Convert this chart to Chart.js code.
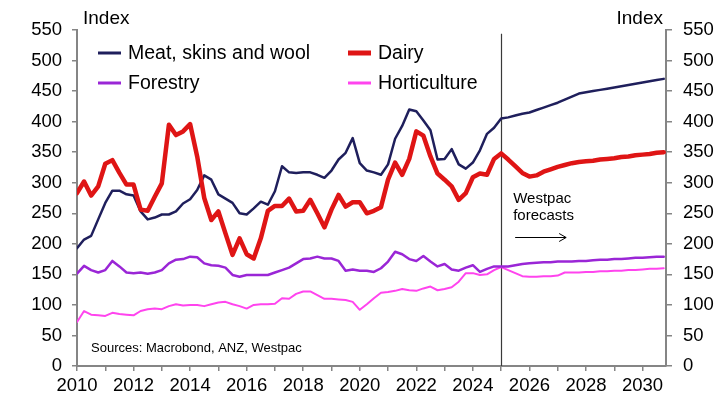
<!DOCTYPE html>
<html>
<head>
<meta charset="utf-8">
<script src="https://cdn.jsdelivr.net/npm/chart.js@4/dist/chart.umd.min.js"></script>
<style>
  html, body { margin: 0; padding: 0; background: #fff; }
  #wrap { width: 727px; height: 398px; position: relative; }
</style>
</head>
<body>
<div id="wrap"><canvas id="c" width="727" height="398"></canvas></div>
<script>
// Quarterly export price indices, 2010 Q1 onwards; forecasts start after 2025 Q1.
const FIRST_YEAR = 2010;
const FORECAST_FROM = 2025;

const meatHistory = [193,207,213,240,267,287,287,281,279,253,240,243,248,248,253,266,273,288,312,305,
  281,274,267,250,248,258,269,264,286,327,317,316,317,317,313,308,320,338,349,373,
  332,320,317,313,330,372,393,420,417,402,386,338,339,355,330,323,333,353,380,390,405];
const meatForecast = [407,410,413,415,419,423,427,431,436,441,446,448,450,452,454,456,458,460,462,464,466,468,470];

const dairyHistory = [283,302,279,294,331,337,316,297,297,256,254,277,299,395,378,384,396,343,275,239,
  253,217,182,209,183,176,209,254,262,262,274,253,254,272,250,227,256,280,261,268,
  268,250,254,260,305,333,313,339,384,377,343,315,305,294,272,283,309,315,313,339,348];
const dairyForecast = [338,327,316,310,312,318,322,326,329,332,334,335,336,338,339,340,342,343,345,346,347,349,350];

const forestryHistory = [151,164,157,153,157,172,163,153,152,153,151,153,157,168,174,175,179,178,168,165,
  164,161,149,146,149,149,149,149,153,157,161,168,175,176,179,176,176,172,156,158,
  156,156,154,160,171,187,183,175,172,180,171,163,167,158,156,161,165,154,159,163,163];
const forestryForecast = [163,165,167,168,169,170,170,171,171,171,172,172,173,174,174,175,175,176,177,177,178,179,179];

const hortHistory = [72,90,84,83,82,87,85,84,83,90,93,94,93,98,101,99,100,100,98,101,
  104,105,101,98,94,100,101,101,102,111,110,118,122,122,116,110,110,109,108,105,
  92,101,111,120,121,123,126,124,123,127,130,124,126,129,138,152,152,149,150,157,162];
const hortForecast = [157,152,147,146,146,147,147,148,153,153,153,154,154,155,155,156,156,157,157,158,159,159,160];

const yTicks = { min: 0, max: 550, step: 50 };
const xRange = { min: 2010, max: 2030.83 };

const seriesNames = ['Meat, skins and wool', 'Dairy', 'Forestry', 'Horticulture'];
const seriesColors = ['#1f1f5c', '#df1515', '#9a26d6', '#ff44ee'];
const seriesWidths = [2.5, 4.5, 2.5, 2];

// Turn a quarterly value list into {x: year, y: value} points
function toPoints(values) {
  return values.map((v, i) => ({ x: FIRST_YEAR + i * 0.25, y: v }));
}

const allSeries = [
  meatHistory.concat(meatForecast),
  dairyHistory.concat(dairyForecast),
  forestryHistory.concat(forestryForecast),
  hortHistory.concat(hortForecast)
];

const FONT = '"Liberation Sans", Arial, Helvetica, sans-serif';
const AXIS_GREY = '#858585';

const datasets = allSeries.map((vals, k) => ({
  label: seriesNames[k],
  data: toPoints(vals),
  borderColor: seriesColors[k],
  backgroundColor: seriesColors[k],
  borderWidth: seriesWidths[k],
  pointRadius: 0,
  tension: 0,
  borderJoinStyle: 'round',
  borderCapStyle: 'round',
  fill: false,
  order: k === 1 ? 0 : k + 1
}));

// Forecast divider, annotations, legend and axis titles
const overlay = {
  id: 'overlay',
  beforeDatasetsDraw(chart) {
    const { ctx, scales } = chart;
    const x = Math.round(scales.x.getPixelForValue(FORECAST_FROM)) + 0.5;
    ctx.save();
    ctx.strokeStyle = '#3a3a3a';
    ctx.lineWidth = 1.2;
    ctx.beginPath();
    ctx.moveTo(x, scales.y.getPixelForValue(544));
    ctx.lineTo(x, scales.y.getPixelForValue(0));
    ctx.stroke();
    ctx.restore();
  },
  afterDraw(chart) {
    const { ctx, scales, chartArea } = chart;
    ctx.save();
    ctx.fillStyle = '#000';

    // axis titles
    ctx.font = '19px ' + FONT;
    ctx.textBaseline = 'alphabetic';
    ctx.textAlign = 'left';
    ctx.fillText('Index', chartArea.left + 6, 24);
    ctx.textAlign = 'right';
    ctx.fillText('Index', chartArea.right - 3, 24);

    // legend, two rows by two columns
    const legendRows = [53, 83];
    const legendCols = [98, 348];
    ctx.font = '19.5px ' + FONT;
    ctx.textAlign = 'left';
    ctx.textBaseline = 'middle';
    seriesNames.forEach((name, k) => {
      const col = legendCols[k % 2];
      const row = legendRows[Math.floor(k / 2)];
      ctx.strokeStyle = seriesColors[k];
      ctx.lineWidth = k === 1 ? 5 : 3;
      ctx.beginPath();
      ctx.moveTo(col, row);
      ctx.lineTo(col + 23, row);
      ctx.stroke();
      ctx.fillStyle = '#000';
      ctx.fillText(name, col + 30, row + 1);
    });

    // source note
    ctx.font = '13px ' + FONT;
    ctx.fillText('Sources: Macrobond, ANZ, Westpac', chartArea.left + 14, 348);

    // forecast note with arrow
    const fx = scales.x.getPixelForValue(FORECAST_FROM) + 12;
    ctx.font = '15px ' + FONT;
    ctx.fillText('Westpac', fx, 199);
    ctx.fillText('forecasts', fx, 216);
    const ay = 237.5;
    ctx.strokeStyle = '#000';
    ctx.lineWidth = 1;
    ctx.beginPath();
    ctx.moveTo(fx + 2, ay);
    ctx.lineTo(fx + 53, ay);
    ctx.moveTo(fx + 46, ay - 4);
    ctx.lineTo(fx + 53, ay);
    ctx.lineTo(fx + 46, ay + 4);
    ctx.stroke();
    ctx.restore();
  }
};

function yAxis(position, width, pad, tick) {
  return {
    type: 'linear',
    position: position,
    min: yTicks.min,
    max: yTicks.max,
    border: { display: true, color: AXIS_GREY, width: 2 },
    grid: { display: true, drawOnChartArea: false, drawTicks: true, tickLength: tick, color: AXIS_GREY, lineWidth: 1.5 },
    ticks: {
      stepSize: yTicks.step,
      padding: pad,
      color: '#000',
      font: { family: FONT, size: 18.5 }
    },
    afterFit(scale) { scale.width = width; }
  };
}

new Chart(document.getElementById('c'), {
  type: 'line',
  data: { datasets: datasets },
  options: {
    responsive: false,
    animation: false,
    events: [],
    layout: { padding: { top: 30, left: 0, right: 0, bottom: 0 } },
    plugins: { legend: { display: false }, tooltip: { enabled: false } },
    scales: {
      x: {
        type: 'linear',
        position: 'bottom',
        min: xRange.min,
        max: xRange.max,
        border: { display: true, color: AXIS_GREY, width: 2 },
        grid: { display: true, drawOnChartArea: false, drawTicks: true, tickLength: 5, color: AXIS_GREY, lineWidth: 1.5 },
        ticks: {
          stepSize: 1,
          autoSkip: false,
          includeBounds: false,
          maxRotation: 0,
          padding: 4,
          color: '#000',
          font: { family: FONT, size: 18.5 },
          callback: (v) => (Math.round(v) === v && v % 2 === 0) ? String(v) : ''
        },
        afterFit(scale) { scale.height = 32; }
      },
      y: yAxis('left', 77, 10, 5),
      y2: yAxis('right', 61, 11, 6)
    }
  },
  plugins: [overlay]
});
</script>
</body>
</html>
